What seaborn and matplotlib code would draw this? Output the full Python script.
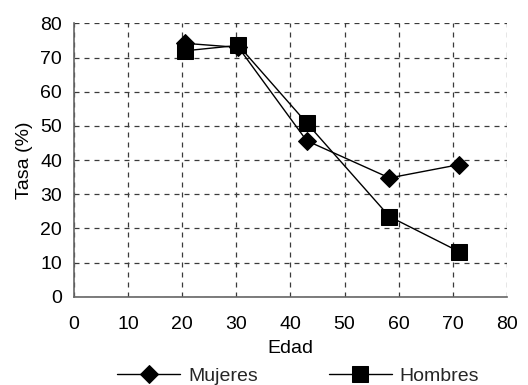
import matplotlib
matplotlib.use("Agg")
import matplotlib.pyplot as plt
import seaborn as sns

# Participation rate by age group
edad = [20.5, 30.4, 43.0, 58.3, 71.2]
mujeres = [74.2, 73.0, 45.7, 34.8, 38.7]
hombres = [72.0, 73.6, 50.9, 23.5, 13.2]
x_ticks = [0, 10, 20, 30, 40, 50, 60, 70, 80]
y_ticks = [0, 10, 20, 30, 40, 50, 60, 70, 80]

sns.set_theme(style="white")
plt.rcParams["font.family"] = ["Liberation Sans", "DejaVu Sans"]
FS = 14

fig = plt.figure(figsize=(5.28, 3.85), dpi=100)
ax = fig.add_axes([0.140, 0.229, 0.820, 0.710])

sns.lineplot(x=edad, y=mujeres, ax=ax, color="black", lw=1,
             marker="D", markersize=9, markeredgecolor="black",
             label="Mujeres", sort=False, legend=False)
sns.lineplot(x=edad, y=hombres, ax=ax, color="black", lw=1,
             marker="s", markersize=11.5, markeredgecolor="black",
             label="Hombres", sort=False, legend=False)

ax.set_xlim(0, 80)
ax.set_ylim(0, 80)
ax.set_xticks(x_ticks)
ax.set_yticks(y_ticks)
ax.tick_params(axis="both", labelsize=FS, colors="black",
               length=7, width=0.8, direction="inout")
ax.tick_params(axis="x", pad=10)
ax.tick_params(axis="y", pad=5)
for t in ax.get_xticklines() + ax.get_yticklines():
    t.set_color("#555555")

ax.grid(True, color="#3a3a3a", linestyle=(0, (4, 4)), linewidth=0.9)
ax.set_axisbelow(True)

for side in ("top", "right"):
    ax.spines[side].set_visible(False)
for side in ("left", "bottom"):
    ax.spines[side].set_color("#666666")
    ax.spines[side].set_linewidth(1.2)

ax.set_xlabel("Edad", fontsize=FS, labelpad=5, color="black")
ax.set_ylabel("Tasa (%)", fontsize=FS, labelpad=5, color="black")

handles, labels = ax.get_legend_handles_labels()
fig.legend(handles, labels, loc="center left",
           bbox_to_anchor=(117 / 528, 1 - 376 / 385), ncol=2,
           frameon=False, fontsize=FS, handlelength=3.24,
           columnspacing=3.66, handletextpad=0.41, borderpad=0,
           borderaxespad=0)

fig.savefig("out.png", dpi=100)
